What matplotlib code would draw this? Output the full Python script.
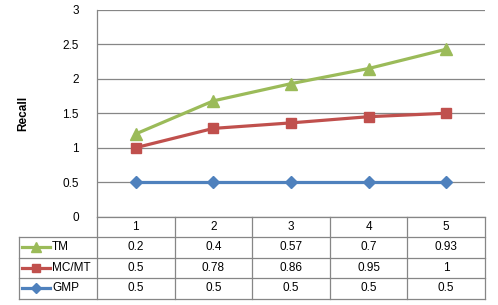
import matplotlib
matplotlib.use('Agg')
import matplotlib.pyplot as plt
import matplotlib.transforms as mtransforms
from matplotlib.lines import Line2D

# data (per-series values, chart is stacked)
categories = ['1', '2', '3', '4', '5']
series_names = ['TM', 'MC/MT', 'GMP']
tm = [0.2, 0.4, 0.57, 0.7, 0.93]
mcmt = [0.5, 0.78, 0.86, 0.95, 1]
gmp = [0.5, 0.5, 0.5, 0.5, 0.5]
yticks = [0, 0.5, 1, 1.5, 2, 2.5, 3]
ytick_labels = ['0', '0.5', '1', '1.5', '2', '2.5', '3']

colors = {'TM': '#9BBB59', 'MC/MT': '#C0504D', 'GMP': '#4F81BD'}
markers = {'TM': '^', 'MC/MT': 's', 'GMP': 'D'}
msizes = {'TM': 8.5, 'MC/MT': 7.5, 'GMP': 6}
grid_c = '#868686'
font = 'Liberation Sans'
fs = 8.5

W, H = 498, 305
fig = plt.figure(figsize=(W / 100, H / 100), dpi=100)
ax = fig.add_axes([97 / W, 1 - 216.5 / H, 388 / W, 206.5 / H])

x = list(range(1, len(categories) + 1))
stack_gmp = gmp
stack_mc = [a + b for a, b in zip(gmp, mcmt)]
stack_tm = [a + b for a, b in zip(stack_mc, tm)]
stacked = {'GMP': stack_gmp, 'MC/MT': stack_mc, 'TM': stack_tm}

for name in ['GMP', 'MC/MT', 'TM']:
    ax.plot(x, stacked[name], color=colors[name], lw=2.3, marker=markers[name],
            ms=msizes[name], mec=colors[name], zorder=3, clip_on=False)

ax.set_xlim(0.5, len(categories) + 0.5)
ax.set_ylim(0, 3)
ax.set_yticks(yticks)
ax.set_yticklabels(ytick_labels, fontsize=fs, family=font)
ax.tick_params(axis='y', length=0, pad=13)
ax.set_xticks([])
ax.grid(axis='y', color=grid_c, lw=0.9)
ax.set_axisbelow(True)
for s in ['top', 'right', 'bottom']:
    ax.spines[s].set_visible(False)
ax.spines['left'].set_color(grid_c)
ax.spines['left'].set_linewidth(0.9)
ax.set_ylabel('Recall', fontsize=fs, fontweight='bold', family=font, labelpad=24)

# data table below the plot
trans = mtransforms.blended_transform_factory(ax.transData, ax.transAxes)
row_h = 20.5 / 206.5
n = len(categories)
left = -0.5
right = n + 0.5
lkw = dict(color=grid_c, lw=0.9, transform=trans, clip_on=False)

# horizontal lines
ax.add_line(Line2D([0.5, right], [0, 0], **lkw))
for r in range(1, 5):
    ax.add_line(Line2D([left, right], [-r * row_h, -r * row_h], **lkw))
# vertical lines
ax.add_line(Line2D([left, left], [-row_h, -4 * row_h], **lkw))
for i in range(n + 1):
    xv = 0.5 + i
    ax.add_line(Line2D([xv, xv], [0, -4 * row_h], **lkw))

# header
for i, c in enumerate(categories):
    ax.text(i + 1, -0.5 * row_h, c, ha='center', va='center', fontsize=fs,
            family=font, transform=trans)

rows = {'TM': tm, 'MC/MT': mcmt, 'GMP': gmp}
for r, name in enumerate(series_names):
    yc = -(r + 1.5) * row_h
    ax.add_line(Line2D([left + 0.03, left + 0.4], [yc, yc], color=colors[name],
                       lw=2.3, transform=trans, clip_on=False))
    ax.add_line(Line2D([left + 0.215], [yc], marker=markers[name], color=colors[name],
                       ms=msizes[name] * 0.8, transform=trans, clip_on=False))
    ax.text(left + 0.42, yc, name, ha='left', va='center', fontsize=fs,
            family=font, transform=trans)
    for i, v in enumerate(rows[name]):
        ax.text(i + 1, yc, f'{v:g}', ha='center', va='center', fontsize=fs,
                family=font, transform=trans)

fig.savefig('out.png', dpi=100)
